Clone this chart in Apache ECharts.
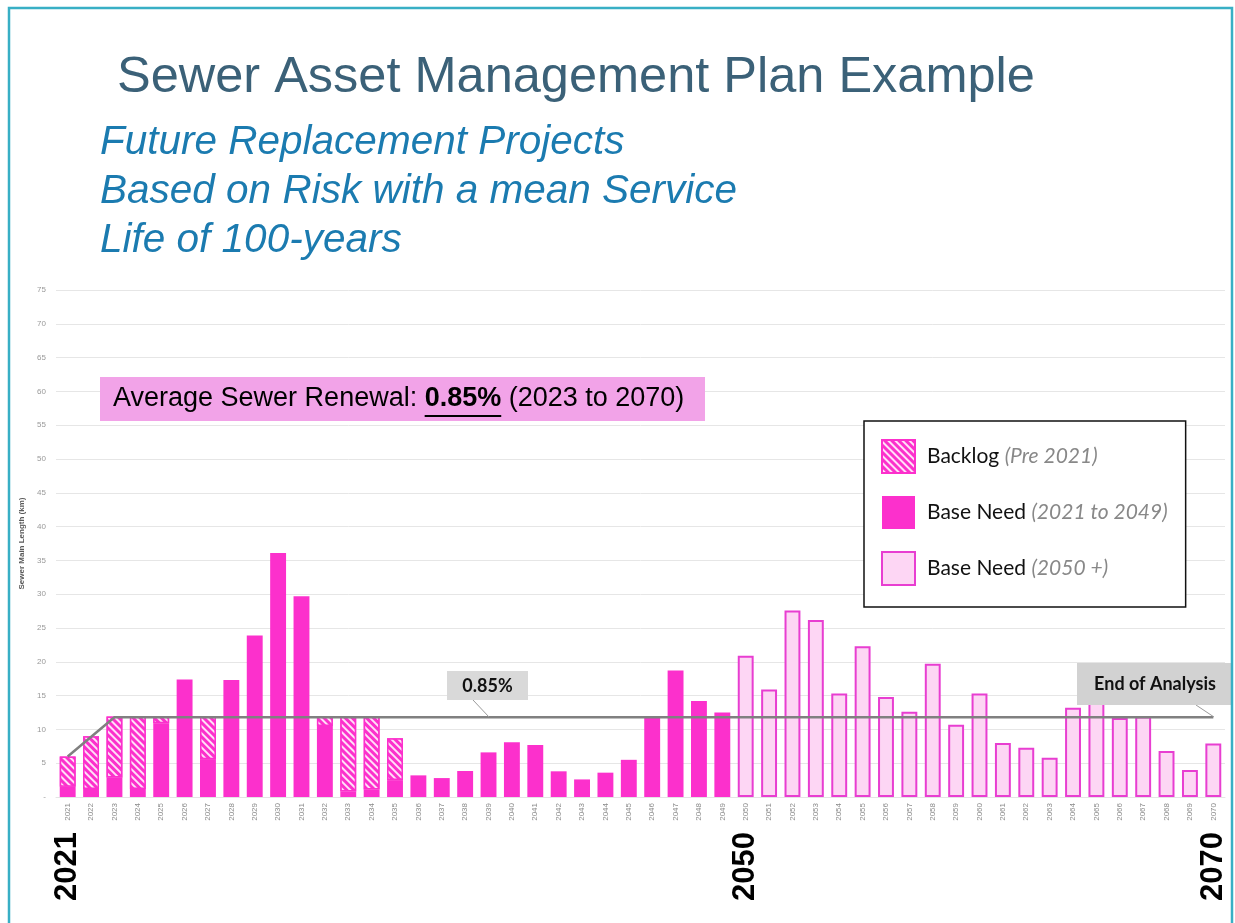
<!DOCTYPE html>
<html>
	<head>
		<meta charset="utf-8">
		<title>Sewer Asset Management Plan Example</title>
		<script src="https://cdn.jsdelivr.net/npm/echarts@6/dist/echarts.min.js"></script>
		<style>
			html, body { margin: 0; padding: 0; background: #fff; }
			#main { width: 1235px; height: 923px; }
		</style>
	</head>
	<body>
		<div id="main"></div>
		<script>
			// years on the x axis
			var years = ['2021', '2022', '2023', '2024', '2025', '2026', '2027', '2028', '2029', '2030',
				'2031', '2032', '2033', '2034', '2035', '2036', '2037', '2038', '2039', '2040',
				'2041', '2042', '2043', '2044', '2045', '2046', '2047', '2048', '2049', '2050',
				'2051', '2052', '2053', '2054', '2055', '2056', '2057', '2058', '2059', '2060',
				'2061', '2062', '2063', '2064', '2065', '2066', '2067', '2068', '2069', '2070'];
			// base need 2021 - 2049 (km)
			var baseNeed = [1.5, 1.2, 2.9, 1.2, 10.9, 17.4, 5.6, 17.3, 23.9, 36.1,
				29.7, 10.5, 0.8, 1.1, 2.5, 3.2, 2.8, 3.85, 6.6, 8.1,
				7.7, 3.8, 2.6, 3.6, 5.5, 11.7, 18.7, 14.2, 12.5];
			// backlog (pre 2021) stacked on top, '-' = none
			var backlog = [4.5, 7.8, 9.0, 10.7, 1.0, '-', 6.3, '-', '-', '-',
				'-', 1.4, 11.1, 10.8, 6.2];
			// base need 2050 + (km)
			var futureNeed = [20.9, 15.9, 27.6, 26.2, 15.3, 22.3, 14.8, 12.6, 19.7, 10.7,
				15.3, 8.0, 7.3, 5.8, 13.2, 14.2, 11.7, 11.9, 6.8, 4.0, 7.9];
			// 0.85% renewal line (vertices)
			var renewalLine = [['2021', 6.0], ['2023', 11.8], ['2070', 11.8]];
			// years shown big under the axis
			var bigYears = ['2021', '2050', '2070'];

			var none = function(n) {
				var a = [];
				for (var i = 0; i < n; i++) a.push('-');
				return a;
			};

			var pink = '#fc30cc';
			var font = 'Liberation Sans, Arial, sans-serif';

			var myChart = echarts.init(document.getElementById('main'));

			// measure text for the underline under 0.85%
			var ctx = document.createElement('canvas').getContext('2d');
			ctx.font = '27px Liberation Sans';
			var w1 = ctx.measureText('Average Sewer Renewal: ').width;
			ctx.font = 'bold 27px Liberation Sans';
			var w2 = ctx.measureText('0.85%').width;
			var avgX = 113;

			var option = {
				backgroundColor: '#fff',
				animation: false,
				title: [{
					text: 'Sewer Asset Management Plan Example',
					left: 112,
					top: 48,
					textStyle: { fontFamily: font, fontSize: 50.5, fontWeight: 'normal', color: '#3b6178' }
				}, {
					text: 'Future Replacement Projects\nBased on Risk with a mean Service\nLife of 100-years',
					left: 95,
					top: 113,
					textStyle: { fontFamily: font, fontSize: 40.5, fontStyle: 'italic', fontWeight: 'normal', color: '#1b7bb0', lineHeight: 49 }
				}],
				legend: {
					orient: 'vertical',
					left: 864,
					top: 421,
					padding: [18, 18, 21, 17],
					icon: 'rect',
					itemWidth: 33,
					itemHeight: 33,
					itemGap: 22,
					backgroundColor: '#fff',
					borderColor: '#111',
					borderWidth: 1.5,
					borderRadius: 0,
					data: ['Backlog (Pre 2021)', 'Base Need (2021 to 2049)', 'Base Need (2050 +)'],
					formatter: function(name) {
						var i = name.indexOf('(');
						return '{n|' + name.slice(0, i) + '}{i|' + name.slice(i) + '}';
					},
					textStyle: {
						rich: {
							n: { fontFamily: 'Lato', fontSize: 21, color: '#111', padding: [0, 0, 0, 7] },
							i: { fontFamily: 'Lato', fontSize: 21, color: '#888', fontStyle: 'italic' }
						}
					}
				},
				grid: { left: 56, right: 10, top: 290, bottom: 126 },
				xAxis: [{
					type: 'category',
					data: years,
					axisLine: { lineStyle: { color: '#e4e4e4' } },
					axisTick: { show: false },
					axisLabel: { interval: 0, rotate: 90, fontSize: 8, color: '#8a8a8a', fontFamily: font, margin: 6 }
				}, {
					type: 'category',
					data: years,
					position: 'bottom',
					axisLine: { show: false },
					axisTick: { show: false },
					axisLabel: {
						interval: 0, rotate: 90, margin: 35,
						fontSize: 31, fontWeight: 'bold', color: '#000', fontFamily: font,
						formatter: function(v) { return bigYears.indexOf(v) >= 0 ? v : ''; }
					}
				}],
				yAxis: {
					type: 'value',
					min: 0,
					max: 75,
					interval: 5,
					name: 'Sewer Main Length (km)',
					nameLocation: 'middle',
					nameGap: 28,
					nameTextStyle: { fontSize: 8, fontWeight: 'bold', color: '#5a5a5a', fontFamily: font },
					axisLine: { show: false },
					axisTick: { show: false },
					axisLabel: {
						fontSize: 8, color: '#999', fontFamily: font, margin: 10,
						formatter: function(v) { return v === 0 ? '-' : v; }
					},
					splitLine: { lineStyle: { color: '#e6e6e6', width: 1 } }
				},
				series: [{
					name: 'Base Need (2021 to 2049)',
					type: 'bar',
					stack: 'km',
					barWidth: '68%',
					data: baseNeed.concat(none(futureNeed.length)),
					itemStyle: { color: pink }
				}, {
					name: 'Backlog (Pre 2021)',
					type: 'bar',
					stack: 'km',
					data: backlog.concat(none(years.length - backlog.length)),
					itemStyle: {
						color: pink,
						borderColor: pink,
						borderWidth: 1.5,
						decal: {
							symbol: 'rect',
							symbolSize: 1,
							color: 'rgba(255,255,255,0.85)',
							dashArrayX: [1, 0],
							dashArrayY: [2, 3],
							rotation: Math.PI / 4
						}
					}
				}, {
					name: 'Base Need (2050 +)',
					type: 'bar',
					stack: 'km',
					data: none(baseNeed.length).concat(futureNeed),
					itemStyle: { color: '#fdd6f4', borderColor: '#e83ed1', borderWidth: 2 }
				}, {
					name: 'renewal',
					type: 'line',
					data: renewalLine,
					symbol: 'none',
					z: 5,
					lineStyle: { color: '#808080', width: 2.5 }
				}],
				graphic: [{
					// frame round the slide
					type: 'rect',
					z: 100,
					shape: { x: 9, y: 8, width: 1223, height: 940 },
					style: { fill: 'none', stroke: '#38afc5', lineWidth: 2.5 },
					silent: true
				}, {
					type: 'rect',
					z: 50,
					shape: { x: 100, y: 377, width: 605, height: 44 },
					style: { fill: '#f2a3e8' }
				}, {
					type: 'text',
					z: 51,
					x: avgX,
					y: 399,
					style: {
						text: '{a|Average Sewer Renewal: }{b|0.85%}{a| (2023 to 2070)}',
						verticalAlign: 'middle',
						rich: {
							a: { fontFamily: 'Liberation Sans', fontSize: 27, fill: '#000' },
							b: { fontFamily: 'Liberation Sans', fontSize: 27, fontWeight: 'bold', fill: '#000' }
						}
					}
				}, {
					type: 'line',
					z: 51,
					shape: { x1: avgX + w1, y1: 416, x2: avgX + w1 + w2, y2: 416 },
					style: { stroke: '#000', lineWidth: 2 }
				}, {
					type: 'line',
					z: 50,
					shape: { x1: 473, y1: 700, x2: 489, y2: 717 },
					style: { stroke: '#9a9a9a', lineWidth: 1 }
				}, {
					type: 'rect',
					z: 50,
					shape: { x: 447, y: 671, width: 81, height: 29 },
					style: { fill: '#d9d9d9' }
				}, {
					type: 'text',
					z: 51,
					x: 487.5,
					y: 686,
					style: {
						text: '0.85%', fontFamily: 'Lato', fontSize: 18, fontWeight: 'bold', fill: '#111',
						align: 'center', verticalAlign: 'middle'
					}
				}, {
					type: 'line',
					z: 50,
					shape: { x1: 1196, y1: 705, x2: 1214, y2: 717 },
					style: { stroke: '#9a9a9a', lineWidth: 1 }
				}, {
					type: 'rect',
					z: 50,
					shape: { x: 1077, y: 663, width: 154, height: 42 },
					style: { fill: '#d2d2d2' }
				}, {
					type: 'text',
					z: 51,
					x: 1155,
					y: 684,
					style: {
						text: 'End of Analysis', fontFamily: 'Lato', fontSize: 18, fontWeight: 'bold', fill: '#111',
						align: 'center', verticalAlign: 'middle'
					}
				}]
			};

			myChart.setOption(option);
		</script>
	</body>
</html>
